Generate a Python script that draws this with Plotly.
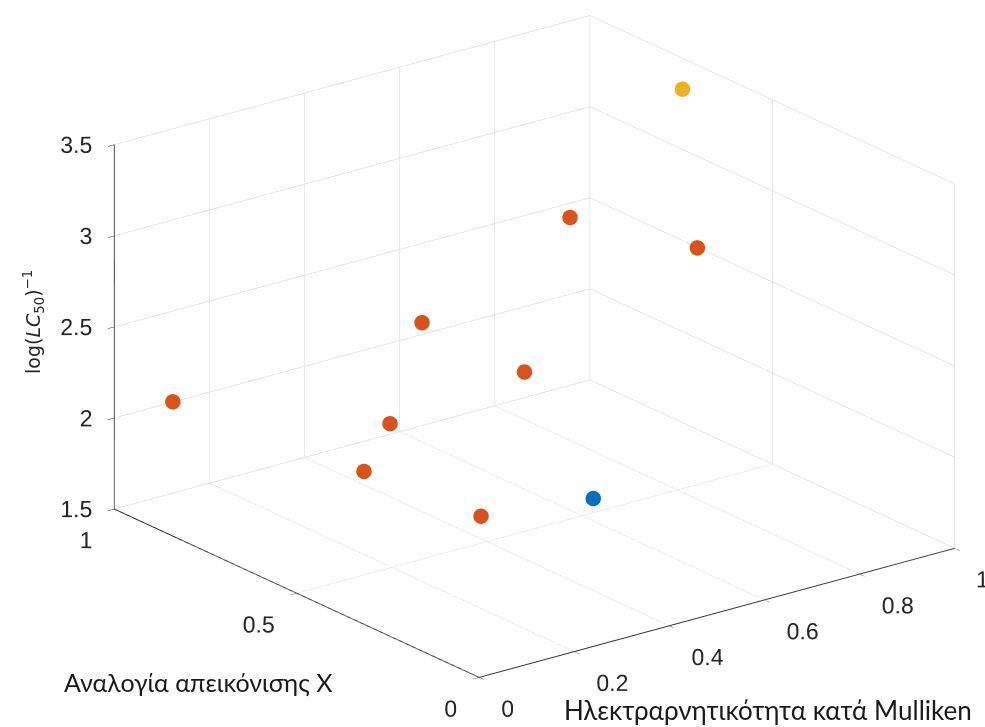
import plotly.graph_objects as go
import math

# Data (x: Mulliken electronegativity, y: mapping ratio X, z: log(LC50)^-1)
blue_x = [0.393]
blue_y = [0.2]
blue_z = [2.02]

orange_x = [0.651, 0.842, 0.263, 0.325, 0.046, 0.119, 0.141, 0.157]
orange_y = [0.6, 0.5, 0.5, 0.3, 0.9, 0.4, 0.5, 0.2]
orange_z = [3.01, 2.80, 2.80, 2.67, 2.15, 2.44, 2.07, 2.09]

yellow_x = [0.964]
yellow_y = [0.7]
yellow_z = [3.40]

x_ticks = [0, 0.2, 0.4, 0.6, 0.8, 1]
y_ticks = [0, 0.5, 1]
z_ticks = [1.5, 2, 2.5, 3, 3.5]

x_title = "Ηλεκτραρνητικότητα κατά Mulliken"
y_title = "Αναλογία απεικόνισης X"
z_title = "log(<i>LC</i><sub>50</sub>)<sup>−1</sup>"

def fmt(v):
    return ("%g" % v)

xmin, xmax = 0, 1
ymin, ymax = 0, 1
zmin, zmax = 1.5, 3.5

fig = go.Figure()

# dark front axis edges (like MATLAB axis lines), built from the axis ranges
fig.add_trace(go.Scatter3d(
    x=[xmin, xmax, None, xmin, xmin, None, xmin, xmin],
    y=[ymin, ymin, None, ymin, ymax, None, ymax, ymax],
    z=[zmin, zmin, None, zmin, zmin, None, zmin, zmax],
    mode="lines", line=dict(color="#2b2b2b", width=2),
    showlegend=False, hoverinfo="skip"))

for xs, ys, zs, col in [(blue_x, blue_y, blue_z, "#0072BD"),
                        (orange_x, orange_y, orange_z, "#D95319"),
                        (yellow_x, yellow_y, yellow_z, "#EDB120")]:
    fig.add_trace(go.Scatter3d(x=xs, y=ys, z=zs, mode="markers",
                               marker=dict(size=9, color=col, line=dict(width=0)),
                               showlegend=False, hoverinfo="skip"))

tick_txt_font = dict(family="Liberation Sans, Arial, sans-serif", size=23, color="#262626")

# tick labels as screen-aligned text anchored at the axis tick positions
fig.add_trace(go.Scatter3d(x=x_ticks, y=[ymin]*len(x_ticks), z=[zmin]*len(x_ticks),
                           mode="text", text=[fmt(v) for v in x_ticks],
                           textposition="bottom right", textfont=tick_txt_font,
                           showlegend=False, hoverinfo="skip"))
fig.add_trace(go.Scatter3d(x=[xmin]*len(y_ticks), y=y_ticks, z=[zmin]*len(y_ticks),
                           mode="text", text=[fmt(v) for v in y_ticks],
                           textposition="bottom left", textfont=tick_txt_font,
                           showlegend=False, hoverinfo="skip"))
fig.add_trace(go.Scatter3d(x=[xmin]*len(z_ticks), y=[ymax]*len(z_ticks), z=z_ticks,
                           mode="text", text=[fmt(v) for v in z_ticks],
                           textposition="middle left", textfont=tick_txt_font,
                           showlegend=False, hoverinfo="skip"))

# view direction (orthographic)
el = math.radians(20.73)
az = math.radians(232.51)
t = 1.9
d = (math.cos(el)*math.cos(az), math.cos(el)*math.sin(az), math.sin(el))
r = (-math.sin(az), math.cos(az), 0.0)
u = (-math.sin(el)*math.cos(az), -math.sin(el)*math.sin(az), math.cos(el))

S = 1.649           # overall scale of the box (orthographic zoom)
k = 598.7 / S       # approx pixels per scene unit
shift_right, shift_up = 42.0, 17.0
a, b = -shift_right / k, -shift_up / k
c = tuple(a*r[i] + b*u[i] for i in range(3))
center = dict(x=c[0], y=c[1], z=c[2])
eye = dict(x=c[0] + t*d[0], y=c[1] + t*d[1], z=c[2] + t*d[2])

axis_common = dict(showbackground=False, showgrid=True, gridcolor="#cccccc", gridwidth=1,
                   showline=True, linecolor="#2b2b2b", linewidth=2,
                   ticks="outside", ticklen=8, tickcolor="#2b2b2b",
                   zeroline=False, showspikes=False, showticklabels=False,
                   title=dict(text=""))

fig.update_layout(
    width=985, height=727,
    margin=dict(l=0, r=0, t=0, b=0),
    paper_bgcolor="white",
    scene=dict(
        domain=dict(x=[0, 1], y=[0, 1]),
        xaxis=dict(range=[xmin, xmax], tickvals=x_ticks, **axis_common),
        yaxis=dict(range=[ymin, ymax], tickvals=y_ticks, **axis_common),
        zaxis=dict(range=[zmin, zmax], tickvals=z_ticks, **axis_common),
        aspectmode="manual",
        aspectratio=dict(x=1*S, y=1*S, z=0.65*S),
        camera=dict(eye=eye, up=dict(x=0, y=0, z=1), center=center,
                    projection=dict(type="orthographic")),
    ),
    annotations=[
        dict(text=y_title, x=198 / 985, y=1 - 682 / 727, xref="paper", yref="paper", showarrow=False,
             xanchor="center", yanchor="middle",
             font=dict(family="Lato, Open Sans, sans-serif", size=25, color="#1a1a1a")),
        dict(text=x_title, x=768 / 985, y=1 - 710 / 727, xref="paper", yref="paper", showarrow=False,
             xanchor="center", yanchor="middle",
             font=dict(family="Lato, Open Sans, sans-serif", size=26, color="#1a1a1a")),
        dict(text=z_title, x=33 / 985, y=1 - 322 / 727, xref="paper", yref="paper", showarrow=False,
             textangle=-90, xanchor="center", yanchor="middle",
             font=dict(family="DejaVu Sans, sans-serif", size=19, color="#262626")),
    ],
)

fig.write_html("out.html")
